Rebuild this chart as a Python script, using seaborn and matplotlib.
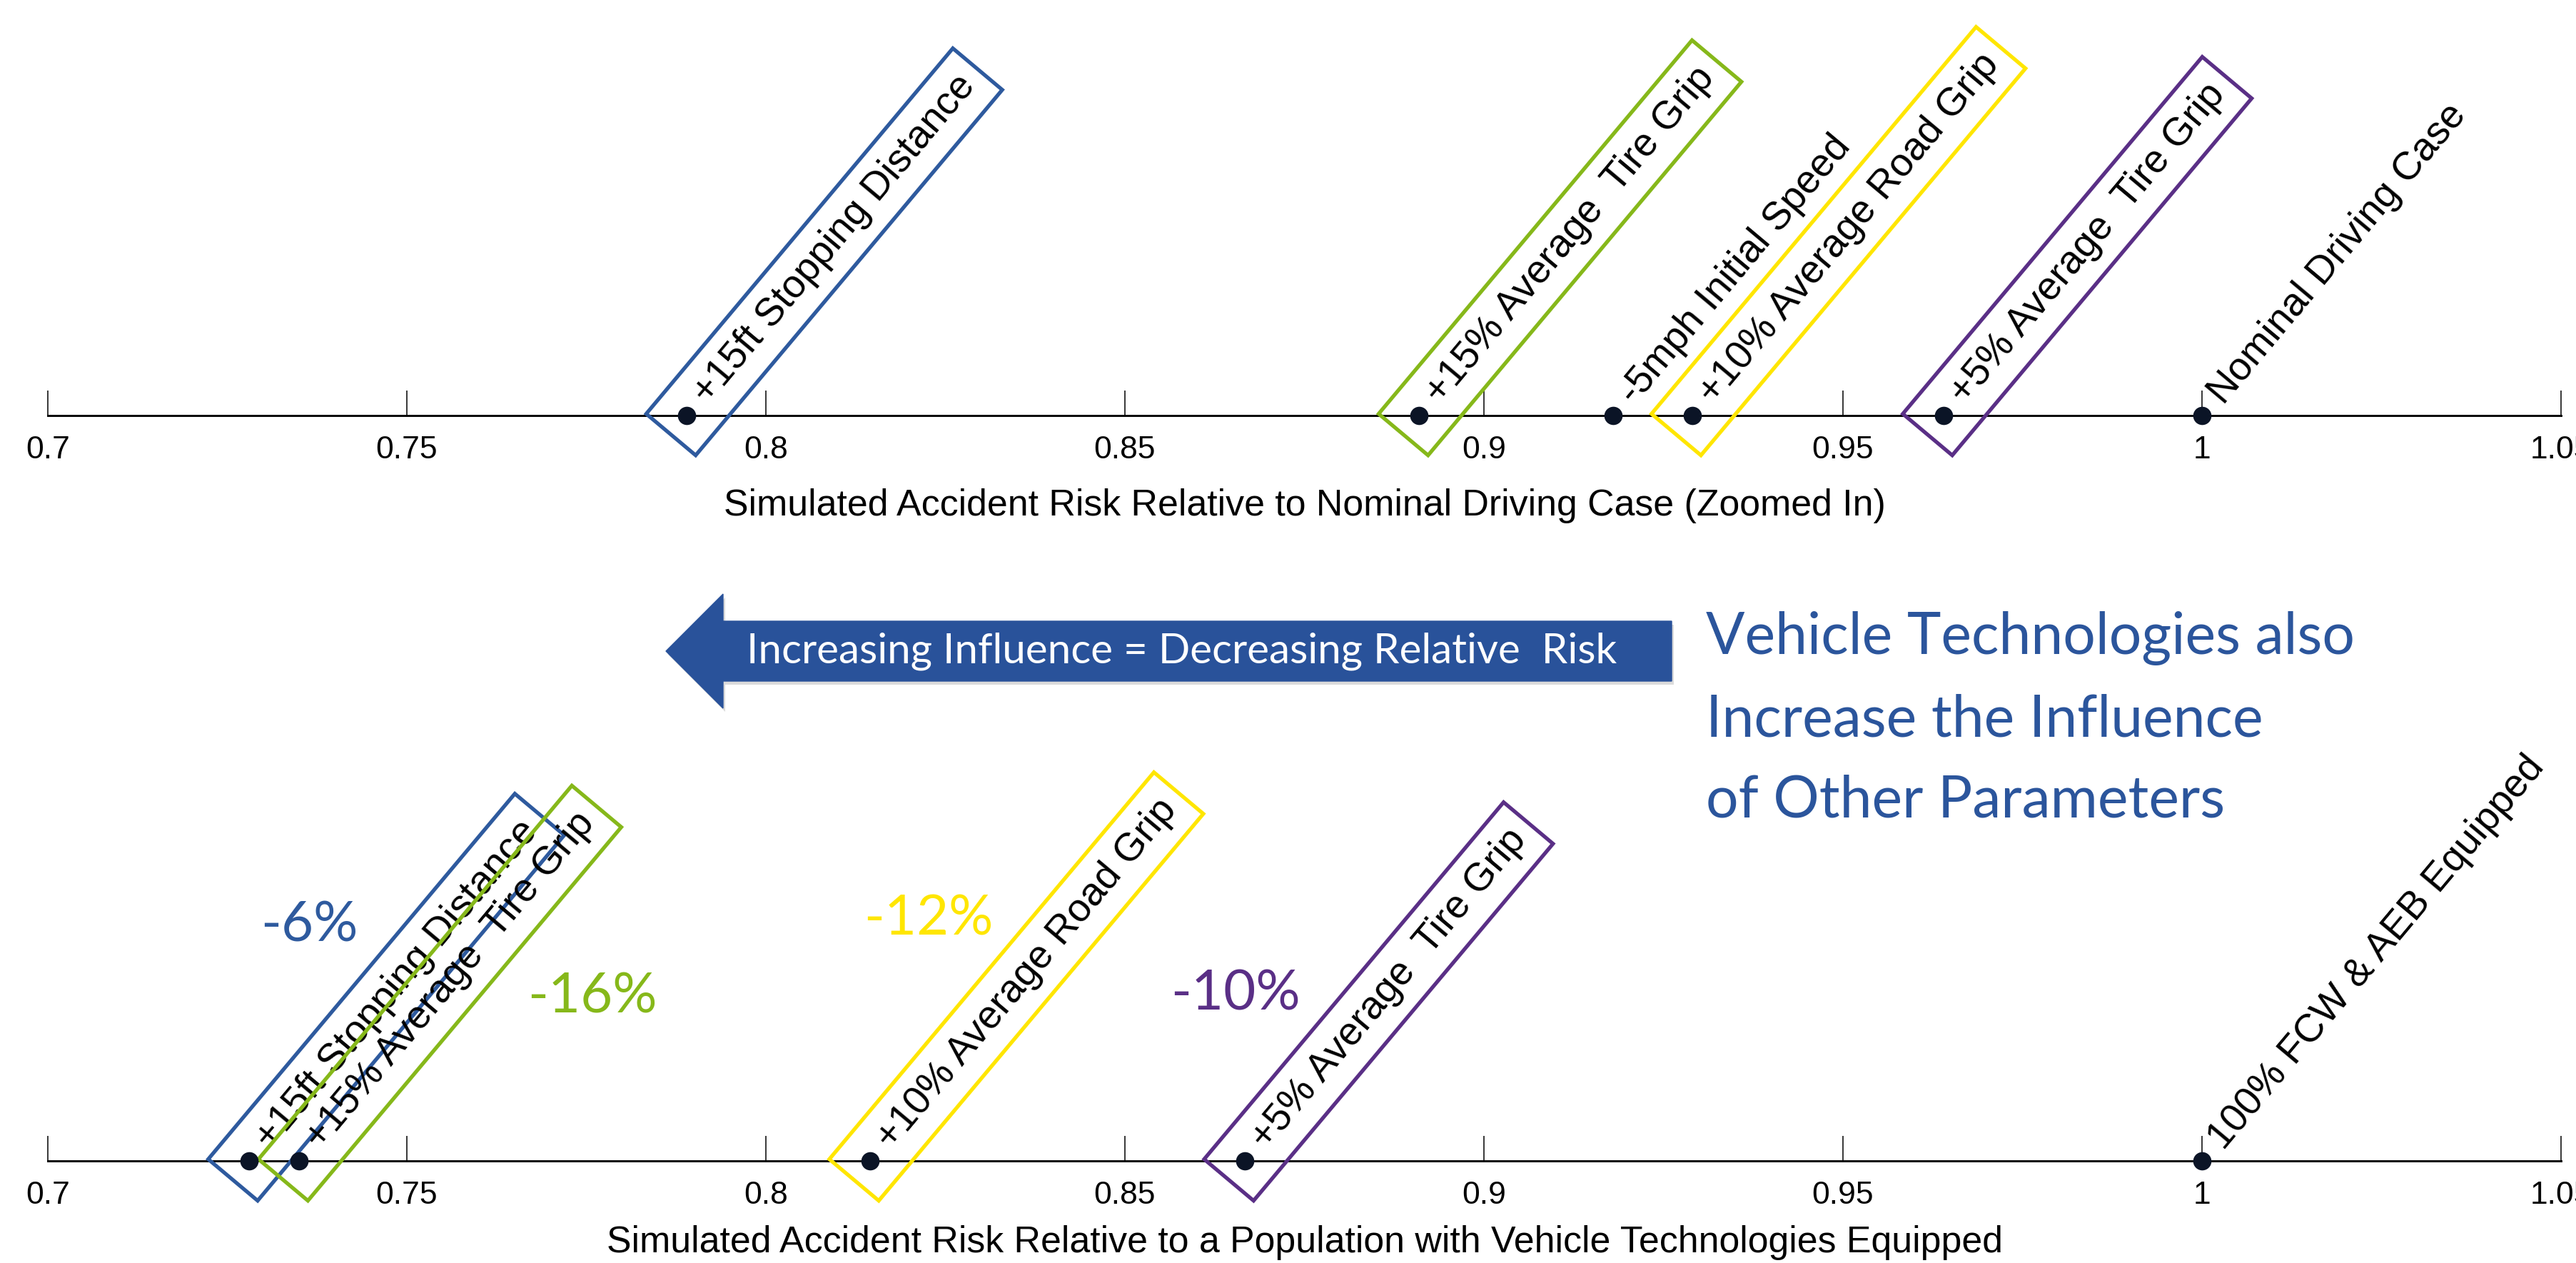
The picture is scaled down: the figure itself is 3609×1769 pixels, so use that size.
import numpy as np
import pandas as pd
import matplotlib
matplotlib.use("Agg")
import matplotlib.pyplot as plt
from matplotlib.patches import Polygon
import seaborn as sns

# ---------------- data ----------------
top_labels = ["+15ft Stopping Distance", "+15% Average  Tire Grip", "-5mph Initial Speed",
              "+10% Average Road Grip", "+5% Average  Tire Grip", "Nominal Driving Case"]
top_values = [0.789, 0.891, 0.918, 0.929, 0.964, 1.0]
top_box = ["blue", "green", None, "yellow", "purple", None]

bottom_labels = ["+15ft Stopping Distance", "+15% Average  Tire Grip", "+10% Average Road Grip",
                 "+5% Average  Tire Grip", "100% FCW & AEB Equipped"]
bottom_values = [0.728, 0.735, 0.8145, 0.8667, 1.0]
bottom_box = ["blue", "green", "yellow", "purple", None]

pct_labels = ["-6%", "-16%", "-12%", "-10%"]
pct_color = ["blue", "green", "yellow", "purple"]
pct_x = [0.7364, 0.7758, 0.8226, 0.8654]
pct_y = [0.571, 0.398, 0.587, 0.405]

tick_values = [0.7, 0.75, 0.8, 0.85, 0.9, 0.95, 1.0, 1.05]
tick_labels = ["0.7", "0.75", "0.8", "0.85", "0.9", "0.95", "1", "1.05"]

top_title = "Simulated Accident Risk Relative to Nominal Driving Case (Zoomed In)"
bottom_title = "Simulated Accident Risk Relative to a Population with Vehicle Technologies Equipped"
arrow_text = "Increasing Influence = Decreasing Relative  Risk"
side_lines = ["Vehicle Technologies also", "Increase the Influence", "of Other Parameters"]

palette = {"blue": "#2E5A9E", "green": "#86B81A", "yellow": "#FFE600", "purple": "#5A2F86"}
dot_color = "#0B1426"
text_blue = "#2B559C"

# ---------------- style ----------------
sns.set_style("white")
plt.rcParams["font.family"] = ["Liberation Sans", "DejaVu Sans"]

W, H = 3609, 1769
fig = plt.figure(figsize=(W / 100, H / 100), dpi=100)
fig.patch.set_facecolor("white")

left = 67 / W
width = (3588 - 67) / W
ax_top = fig.add_axes([left, 1 - 582 / H, width, 582 / H])
ax_bot = fig.add_axes([left, 1 - 1626 / H, width, (1626 - 1050) / H])


def style_axis(ax, title, labelpad):
    ax.set_xlim(0.7, 1.05)
    ax.set_ylim(0, 1)
    ax.patch.set_alpha(0)
    for s in ["left", "right", "top"]:
        ax.spines[s].set_visible(False)
    ax.spines["bottom"].set_linewidth(2.1)
    ax.spines["bottom"].set_color("black")
    ax.set_yticks([])
    ax.set_xticks(tick_values)
    ax.set_xticklabels(tick_labels)
    ax.tick_params(axis="x", bottom=True, direction="in", length=25, width=1.1, color="black",
                   labelsize=32, pad=20, labelcolor="black")
    ax.set_xlabel(title, fontsize=37.4, labelpad=labelpad, color="black")
    ax.set_ylabel("")


def draw_labels(ax, values, labels, boxes):
    for x, txt, b in zip(values, labels, boxes):
        bbox = None
        if b is not None:
            bbox = dict(boxstyle="square,pad=0.35", fc="none", ec=palette[b], lw=3.8)
        ax.annotate("   " + txt, xy=(x, 0), xycoords=("data", "axes fraction"),
                    xytext=(-7.2, -8.6), textcoords="offset points",
                    rotation=50, rotation_mode="anchor", ha="left", va="center",
                    fontsize=39.5, color="black", bbox=bbox, annotation_clip=False, zorder=4)


for ax, vals, labs, boxes, title, lp in [
    (ax_top, top_values, top_labels, top_box, top_title, 24),
    (ax_bot, bottom_values, bottom_labels, bottom_box, bottom_title, 15),
]:
    df = pd.DataFrame({"value": vals, "y": [0.0] * len(vals)})
    sns.scatterplot(data=df, x="value", y="y", ax=ax, color=dot_color, s=340,
                    linewidth=0, zorder=6, clip_on=False, legend=False)
    style_axis(ax, title, lp)
    draw_labels(ax, vals, labs, boxes)

# percentage changes
for t, c, x, y in zip(pct_labels, pct_color, pct_x, pct_y):
    ax_bot.text(x, y, t, transform=ax_bot.get_xaxis_transform(), ha="center", va="center",
                fontsize=56, color=palette[c], family=["Lato", "DejaVu Sans"])

# arrow (decoration, in pixel-inch coordinates)
def px(x, y):
    return (x / 100, (H - y) / 100)

tip_x, head_x, end_x, cy = 933, 1013, 2342, 912
body_h, head_h = 42, 80
arrow_pts = [px(tip_x, cy), px(head_x, cy - head_h), px(head_x, cy - body_h), px(end_x, cy - body_h),
             px(end_x, cy + body_h), px(head_x, cy + body_h), px(head_x, cy + head_h)]
shadow_pts = [(x + 0.03, y - 0.05) for x, y in arrow_pts]
fig.patches.append(Polygon(shadow_pts, closed=True, transform=fig.dpi_scale_trans,
                           fc="#9a9a9a", ec="none", alpha=0.35, zorder=1))
fig.patches.append(Polygon(arrow_pts, closed=True, transform=fig.dpi_scale_trans,
                           fc="#29529A", ec="#29529A", lw=1, zorder=2))
fig.text(1656 / W, 1 - cy / H, arrow_text, ha="center", va="center", color="white",
         fontsize=42, family=["Lato", "DejaVu Sans"], zorder=3)

# side statement
for line, base_y in zip(side_lines, [916, 1032, 1144]):
    fig.text(2390 / W, 1 - base_y / H, line, ha="left", va="baseline", color=text_blue,
             fontsize=58, family=["Lato", "DejaVu Sans"])

fig.savefig("out.png", dpi=100, facecolor="white")
